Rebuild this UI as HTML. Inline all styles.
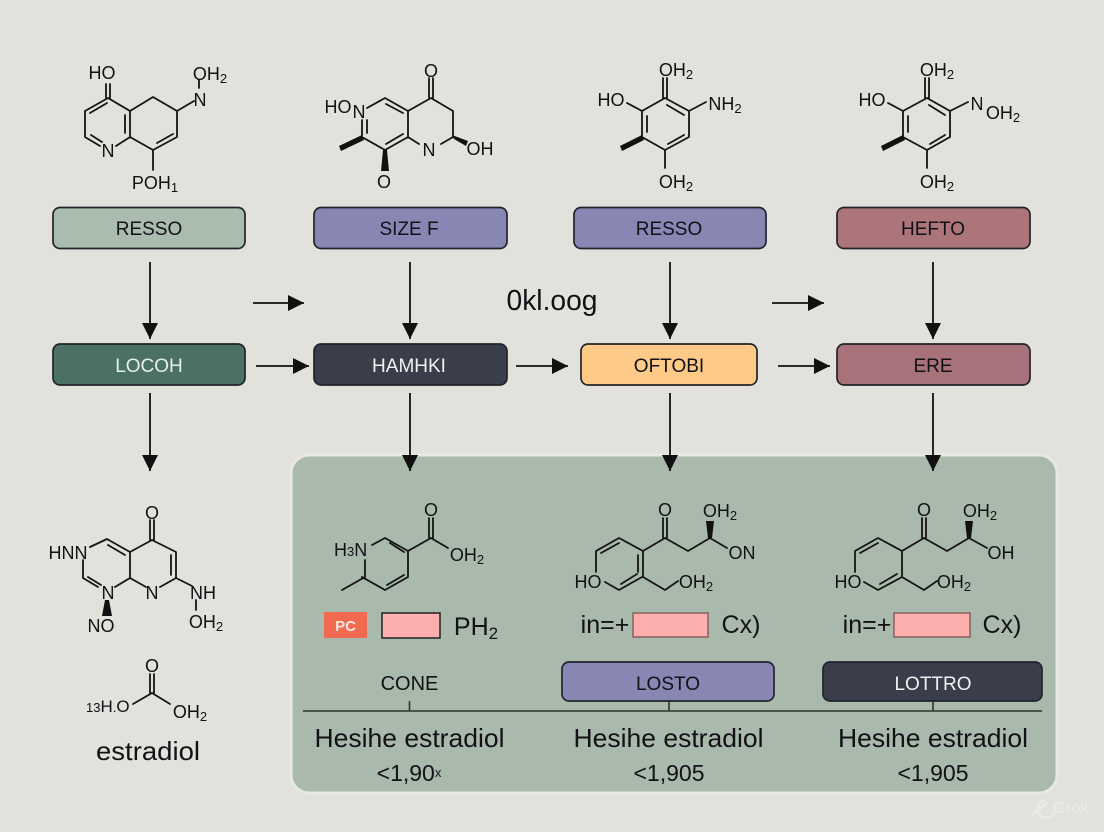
<!DOCTYPE html>
<html><head><meta charset="utf-8"><style>
html,body{margin:0;padding:0;background:#e3e1db}
svg{display:block}
text{font-family:"Liberation Sans",sans-serif;fill:#111116}
.m{font-size:18px;text-anchor:middle}
.b{font-size:19px;text-anchor:middle}
.h{font-size:26px;text-anchor:middle}
.n{font-size:23px;text-anchor:middle}
.f{font-size:25px;text-anchor:middle}
.s{font-size:13px}
.l{stroke:#141414;stroke-width:1.8;fill:none;stroke-linecap:round;stroke-linejoin:round}
.a{stroke:#111;stroke-width:1.8}
.r{stroke:#22232b;stroke-width:1.7}
</style></head><body>
<svg width="1104" height="832" viewBox="0 0 1104 832" xmlns="http://www.w3.org/2000/svg">
<defs><marker id="ah" markerWidth="18" markerHeight="16" refX="16" refY="8" orient="auto" markerUnits="userSpaceOnUse"><path d="M0 0L16 8L0 16Z" fill="#111"/></marker></defs>
<rect width="1104" height="832" fill="#e3e1db"/>
<rect x="291" y="455" width="766" height="338" rx="18" fill="#a9b9ab" stroke="#e9e8e3" stroke-width="3"/>

<!-- boxes -->
<g class="r">
<rect x="53" y="207.500" width="192" height="41" rx="7" fill="#a9bcad"/>
<rect x="314" y="207.500" width="193" height="41" rx="7" fill="#8886b3"/>
<rect x="574" y="207.500" width="192" height="41" rx="7" fill="#8886b3"/>
<rect x="837" y="207.500" width="193" height="41" rx="7" fill="#ab757a"/>
<rect x="53" y="344" width="192" height="41" rx="7" fill="#4a7163"/>
<rect x="314" y="344" width="193" height="41" rx="7" fill="#3a3d4a"/>
<rect x="581" y="344" width="176" height="41" rx="7" fill="#fdca88"/>
<rect x="837" y="344" width="193" height="41" rx="7" fill="#a8727a"/>
<rect x="562" y="662" width="212" height="39" rx="7" fill="#8886b3"/>
<rect x="823" y="662" width="219" height="39" rx="7" fill="#3a3d4a"/>
</g>
<text class="b" x="149" y="235">RESSO</text>
<text class="b" x="409" y="235">SIZE F</text>
<text class="b" x="669" y="235">RESSO</text>
<text class="b" x="933" y="235">HEFTO</text>
<text class="b" x="149" y="372" style="fill:#e8efe9">LOCOH</text>
<text class="b" x="409" y="372" style="fill:#f2f2f2">HAMHKI</text>
<text class="b" x="669" y="372">OFTOBI</text>
<text class="b" x="933" y="372">ERE</text>
<text class="b" x="668" y="690">LOSTO</text>
<text class="b" x="933" y="690" style="fill:#f2f2f2">LOTTRO</text>

<!-- arrows -->
<g class="a">
<line x1="150" y1="262" x2="150" y2="339" marker-end="url(#ah)"/>
<line x1="410" y1="262" x2="410" y2="339" marker-end="url(#ah)"/>
<line x1="670" y1="262" x2="670" y2="339" marker-end="url(#ah)"/>
<line x1="933" y1="262" x2="933" y2="339" marker-end="url(#ah)"/>
<line x1="150" y1="393" x2="150" y2="471" marker-end="url(#ah)"/>
<line x1="410" y1="393" x2="410" y2="471" marker-end="url(#ah)"/>
<line x1="670" y1="393" x2="670" y2="471" marker-end="url(#ah)"/>
<line x1="933" y1="393" x2="933" y2="471" marker-end="url(#ah)"/>
<line x1="253" y1="303" x2="304" y2="303" marker-end="url(#ah)"/>
<line x1="772" y1="303" x2="824" y2="303" marker-end="url(#ah)"/>
<line x1="256" y1="366" x2="309" y2="366" marker-end="url(#ah)"/>
<line x1="516" y1="366" x2="568" y2="366" marker-end="url(#ah)"/>
<line x1="778" y1="366" x2="830" y2="366" marker-end="url(#ah)"/>
</g>
<text x="552" y="310" style="font-size:29px;text-anchor:middle" textLength="91" lengthAdjust="spacingAndGlyphs">0kl.oog</text>

<!-- molecule 1 -->
<path class="l" d="M106 84V98M110 84V98M108 98L85 111V137L100 146M116 146L130 137V111L108 98M130 111L153 97L177 111V137L153 150L130 137M177 111L194 101M199 80V88M153 150V170M90 113L107 103M91 135L102 142M125 115V133M157 143L173 134"/>
<text class="m" x="102" y="79">HO</text>
<text class="m" x="200" y="106">N</text>
<text class="m" x="210" y="80">OH<tspan class="s" dy="3">2</tspan></text>
<text class="m" x="155" y="189">POH<tspan class="s" dy="3">1</tspan></text>
<text class="m" x="108" y="157">N</text>

<!-- molecule 2 -->
<path class="l" d="M429 78V98M433 78V98M431 98L408 111V137L385 150L362 137V120M367 108L385 98L408 111M431 98L453 111V137L441 144M419 144L408 137M386 104L403 113M403 134L386 144M367 133V120"/>
<polygon points="362,135 364,140 341,151 339,146" fill="#111"/>
<polygon points="383,150 387,150 389,171 381,171" fill="#111"/>
<polygon points="452,135 454,139 466,146 468,141" fill="#111"/>
<text class="m" x="431" y="77">O</text>
<text class="m" x="338" y="113">HO</text>
<text class="m" x="359" y="118">N</text>
<text class="m" x="384" y="188">O</text>
<text class="m" x="429" y="156">N</text>
<text class="m" x="480" y="155">OH</text>

<!-- molecule 3 -->
<path class="l" d="M663 78V98M667 78V98M665 98L642 111V137L665 150L689 137V111L665 98M689 111L706 102M642 111L627 103M665 150V168M647 116V132M668 144L684 135M667 105L684 115"/>
<polygon points="642,135 644,140 622,151 620,146" fill="#111"/>
<text class="m" x="676" y="76">OH<tspan class="s" dy="3">2</tspan></text>
<text class="m" x="611" y="106">HO</text>
<text class="m" x="725" y="110">NH<tspan class="s" dy="3">2</tspan></text>
<text class="m" x="676" y="188">OH<tspan class="s" dy="3">2</tspan></text>

<!-- molecule 4 -->
<path class="l" d="M925 78V98M929 78V98M927 98L903 111V137L927 150L950 137V111L927 98M950 111L968 102M903 111L888 103M927 150V168M908 116V132M930 144L945 135M929 105L945 115"/>
<polygon points="903,135 905,140 883,151 881,146" fill="#111"/>
<text class="m" x="937" y="76">OH<tspan class="s" dy="3">2</tspan></text>
<text class="m" x="872" y="106">HO</text>
<text class="m" x="977" y="110">N</text>
<text class="m" x="1003" y="119">OH<tspan class="s" dy="3">2</tspan></text>
<text class="m" x="937" y="188">OH<tspan class="s" dy="3">2</tspan></text>

<!-- molecule 5 -->
<path class="l" d="M150 520V540M154 520V540M152 540L130 552V578L115 587M130 552L107 539L90 547M83 560V578L98 587M130 578L146 587M160 587L176 578V552L152 540M176 578L192 586M108 545L125 555M88 577L101 585M171 555V575M196 600V610"/>
<polygon points="105,600 109,600 112,616 102,616" fill="#111"/>
<text class="m" x="68" y="559">HNN</text>
<text class="m" x="152" y="519">O</text>
<text class="m" x="108" y="599">N</text>
<text class="m" x="152" y="599">N</text>
<text class="m" x="203" y="599">NH</text>
<text class="m" x="206" y="628">OH<tspan class="s" dy="3">2</tspan></text>
<text class="m" x="101" y="632">NO</text>

<!-- molecule 6 -->
<path class="l" d="M150 674V693M154 674V693M152 693L133 704M152 693L170 704"/>
<text class="m" x="152" y="672">O</text>
<text class="m" x="190" y="718">OH<tspan class="s" dy="3">2</tspan></text>
<text x="86" y="712" style="font-size:17px"><tspan class="s">1</tspan><tspan class="s">3</tspan>H<tspan class="s">.</tspan>O</text>
<text class="h" x="148" y="760" textLength="104" lengthAdjust="spacingAndGlyphs">estradiol</text>

<!-- molecule 7 -->
<path class="l" d="M429 518V538M433 518V538M431 538L408 551V577L385 590L362 577M431 538L448 548M408 551L385 538L372 545M365 560V577L342 590M390 543L404 552M404 575L387 585"/>
<text class="m" x="431" y="516">O</text>
<text class="m" x="467" y="561">OH<tspan class="s" dy="3">2</tspan></text>
<text x="334" y="556" style="font-size:18px">H<tspan class="s">3</tspan>N</text>

<!-- row PC -->
<rect x="324" y="612" width="43" height="26" fill="#f26a4f"/>
<text x="345.500" y="631" style="font-size:15px;font-weight:bold;fill:#f4e8e2;text-anchor:middle">PC</text>
<rect x="382" y="613" width="58" height="25" fill="#fdaeae" stroke="#222" stroke-width="1.5"/>
<text class="f" x="476" y="635">PH<tspan style="font-size:17px" dy="4">2</tspan></text>

<!-- molecule 8 -->
<path class="l" d="M663 518V538M667 518V538M665 538L643 551V577L665 590L678 581M643 551L619 538L596 551V572M601 553L619 543M638 555V572M642 577L619 590L605 582M637 574L621 584M665 538L688 551L710 538L727 548"/>
<polygon points="708,538 712,538 714,521 706,521" fill="#111"/>
<text class="m" x="665" y="516">O</text>
<text class="m" x="720" y="517">OH<tspan class="s" dy="3">2</tspan></text>
<text class="m" x="742" y="559">ON</text>
<text class="m" x="588" y="588">HO</text>
<text class="m" x="696" y="588">OH<tspan class="s" dy="3">2</tspan></text>
<text class="n" x="605" y="633" style="font-size:25px">in=+</text>
<rect x="633" y="613" width="75" height="24" fill="#fdaeae" stroke="#7a4a4a" stroke-width="1.2"/>
<text class="n" x="741" y="633" style="font-size:25px">Cx)</text>

<!-- molecule 9 -->
<path class="l" d="M922 518V538M926 518V538M924 538L902 551V577L924 590L937 581M902 551L878 538L855 551V572M860 553L878 543M902 577L878 590L864 582M897 574L880 584M924 538L947 551L969 538L987 548"/>
<polygon points="967,538 971,538 973,521 965,521" fill="#111"/>
<text class="m" x="924" y="516">O</text>
<text class="m" x="980" y="517">OH<tspan class="s" dy="3">2</tspan></text>
<text class="m" x="1001" y="559">OH</text>
<text class="m" x="848" y="588">HO</text>
<text class="m" x="954" y="588">OH<tspan class="s" dy="3">2</tspan></text>
<text class="n" x="867" y="633" style="font-size:25px">in=+</text>
<rect x="894" y="613" width="76" height="24" fill="#fdaeae" stroke="#7a4a4a" stroke-width="1.2"/>
<text class="n" x="1002" y="633" style="font-size:25px">Cx)</text>

<!-- baseline -->
<path d="M303 711H1042M409.500 701V711M669 701V711M933 701V711" stroke="#2c332e" stroke-width="1.6" fill="none"/>
<text class="b" x="409.500" y="690" style="font-size:20px">CONE</text>
<text class="h" x="409.500" y="747" textLength="190" lengthAdjust="spacingAndGlyphs">Hesihe estradiol</text>
<text class="h" x="668.500" y="747" textLength="190" lengthAdjust="spacingAndGlyphs">Hesihe estradiol</text>
<text class="h" x="933" y="747" textLength="190" lengthAdjust="spacingAndGlyphs">Hesihe estradiol</text>
<text class="n" x="409" y="781">&lt;1,90<tspan style="font-size:13px" dy="-4">x</tspan></text>
<text class="n" x="669" y="781">&lt;1,905</text>
<text class="n" x="933" y="781">&lt;1,905</text>
<path d="M1046 800a9 9 0 1 0 7 3M1032 815l14 -12" fill="none" stroke="#eceae5" stroke-width="2.500"/>
<text x="1071" y="813" style="font-size:16px;fill:#eceae5;text-anchor:middle">Grok</text>
</svg>
</body></html>
